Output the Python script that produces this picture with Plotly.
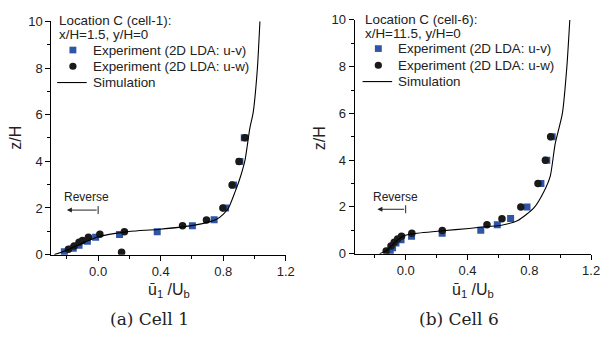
import plotly.graph_objects as go

# ---------------- data ----------------
# Cell 1 (x/H = 1.5)
c1_uv_x = [-0.216, -0.159, -0.122, -0.069, -0.016, 0.137, 0.378, 0.603, 0.742, 0.815, 0.866, 0.907, 0.935]
c1_uv_z = [0.12, 0.27, 0.40, 0.57, 0.75, 0.86, 0.98, 1.24, 1.50, 2.00, 2.99, 3.99, 5.01]
c1_uw_x = [0.150, -0.190, -0.153, -0.122, -0.100, -0.062, 0.011, 0.168, 0.540, 0.693, 0.798, 0.857, 0.901, 0.939]
c1_uw_z = [0.10, 0.23, 0.37, 0.53, 0.61, 0.75, 0.87, 0.98, 1.24, 1.49, 2.00, 2.99, 3.99, 5.01]
c1_sim_x = [-0.28, -0.185, -0.10, 0.0, 0.11, 0.21, 0.38, 0.55, 0.66, 0.76, 0.80, 0.834, 0.876, 0.912, 0.94, 0.97, 0.992, 1.019, 1.035]
c1_sim_z = [0.0, 0.23, 0.50, 0.77, 0.91, 1.0, 1.08, 1.20, 1.32, 1.53, 1.73, 2.0, 2.69, 3.37, 4.06, 5.40, 6.10, 8.0, 10.0]

# Cell 6 (x/H = 11.5)
c6_uv_x = [-0.100, -0.085, -0.063, -0.030, 0.038, 0.236, 0.486, 0.593, 0.679, 0.785, 0.875, 0.913, 0.948]
c6_uv_z = [0.10, 0.25, 0.46, 0.60, 0.75, 0.87, 1.00, 1.24, 1.50, 2.00, 3.00, 4.00, 5.00]
c6_uw_x = [-0.126, -0.095, -0.074, -0.052, -0.027, 0.040, 0.237, 0.526, 0.623, 0.745, 0.856, 0.904, 0.938]
c6_uw_z = [0.12, 0.33, 0.49, 0.63, 0.75, 0.87, 0.99, 1.24, 1.49, 2.00, 3.00, 4.00, 5.00]
c6_sim_x = [-0.168, -0.126, -0.063, -0.021, 0.042, 0.238, 0.41, 0.526, 0.62, 0.726, 0.831, 0.894, 0.936, 0.967, 1.014, 1.043, 1.062]
c6_sim_z = [0.0, 0.12, 0.53, 0.74, 0.85, 0.98, 1.08, 1.16, 1.22, 1.42, 1.97, 2.65, 3.33, 4.69, 6.0, 8.0, 10.0]

x_ticks = [0.0, 0.4, 0.8, 1.2]
y_ticks = [0, 2, 4, 6, 8, 10]

legend_titles = [["Location C (cell-1):", "x/H=1.5, y/H=0"],
                 ["Location C (cell-6):", "x/H=11.5, y/H=0"]]
captions = ["(a) Cell 1", "(b) Cell 6"]
names = ["Experiment (2D LDA: u-v)", "Experiment (2D LDA: u-w)", "Simulation"]

BLUE = "#2f55a6"
BLACK = "#1a1a1a"
TXT = "#222"
SANS = "Liberation Sans, Arial, sans-serif"

W, H = 609, 342

fig = go.Figure()

panels = [
    dict(uv=(c1_uv_x, c1_uv_z), uw=(c1_uw_x, c1_uw_z), sim=(c1_sim_x, c1_sim_z), xa="x", ya="y"),
    dict(uv=(c6_uv_x, c6_uv_z), uw=(c6_uw_x, c6_uw_z), sim=(c6_sim_x, c6_sim_z), xa="x2", ya="y2"),
]

for p in panels:
    fig.add_trace(go.Scatter(x=p["uv"][0], y=p["uv"][1], mode="markers", name=names[0],
                             marker=dict(symbol="square", size=7, color=BLUE),
                             xaxis=p["xa"], yaxis=p["ya"], showlegend=False))
    fig.add_trace(go.Scatter(x=p["uw"][0], y=p["uw"][1], mode="markers", name=names[1],
                             marker=dict(symbol="circle", size=7.5, color=BLACK),
                             xaxis=p["xa"], yaxis=p["ya"], showlegend=False))
    fig.add_trace(go.Scatter(x=p["sim"][0], y=p["sim"][1], mode="lines", name=names[2],
                             line=dict(color="black", width=1.1, shape="spline", smoothing=0.6),
                             xaxis=p["xa"], yaxis=p["ya"], showlegend=False))

dom_x = [[52 / W, 290 / W], [360 / W, 600 / W]]
dom_y = [[(H - 259) / H, (H - 15) / H], [(H - 258) / H, (H - 13.5) / H]]
x_ranges = [[-0.3, 1.2], [-0.33, 1.2]]

axis_common = dict(showline=True, linecolor="black", linewidth=1, ticks="outside",
                   ticklen=5, tickcolor="black", showgrid=False, zeroline=False,
                   tickfont=dict(family=SANS, size=13, color=TXT))

for i, (xa, ya) in enumerate([("xaxis", "yaxis"), ("xaxis2", "yaxis2")]):
    fig.update_layout(**{
        xa: dict(axis_common, domain=dom_x[i], range=x_ranges[i], tickvals=x_ticks,
                 ticktext=[f"{v:.1f}" for v in x_ticks],
                 minor=dict(dtick=0.2, tick0=0, ticks="outside", ticklen=3, tickcolor="black"),
                 anchor="y" if i == 0 else "y2"),
        ya: dict(axis_common, domain=dom_y[i], range=[0, 10], tickvals=y_ticks,
                 minor=dict(dtick=1, tick0=0, ticks="outside", ticklen=3, tickcolor="black"),
                 anchor="x" if i == 0 else "x2"),
    })

annotations = []
shapes = []


def px(x):
    return x / W


def py(y):
    return (H - y) / H


# ---- legends (drawn manually to match the compact spacing) ----
LEGF = 13.4
leg_left = [58, 368]
leg_title_y = [[14, 29], [13, 28]]
leg_item_y = [[45, 62, 79], [43.5, 61, 78]]
for i in range(2):
    x0 = leg_left[i]
    for j, t in enumerate(legend_titles[i]):
        annotations.append(dict(x=px(x0), y=py(leg_title_y[i][j]), xref="paper", yref="paper",
                                text=t, showarrow=False, xanchor="left", yanchor="middle",
                                font=dict(family=SANS, size=LEGF, color=TXT)))
    for j, nm in enumerate(names):
        annotations.append(dict(x=px(x0 + 34), y=py(leg_item_y[i][j]), xref="paper", yref="paper",
                                text=nm, showarrow=False, xanchor="left", yanchor="middle",
                                font=dict(family=SANS, size=LEGF, color=TXT)))
    cx = x0 + 16
    ys, yc, yl = leg_item_y[i]
    shapes.append(dict(type="rect", xref="paper", yref="paper",
                       x0=px(cx - 3.5), x1=px(cx + 3.5), y0=py(ys + 3.5), y1=py(ys - 3.5),
                       fillcolor=BLUE, line=dict(width=0)))
    shapes.append(dict(type="circle", xref="paper", yref="paper",
                       x0=px(cx - 3.7), x1=px(cx + 3.7), y0=py(yc + 3.7), y1=py(yc - 3.7),
                       fillcolor=BLACK, line=dict(width=0)))
    shapes.append(dict(type="line", xref="paper", yref="paper",
                       x0=px(x0), x1=px(x0 + 30), y0=py(yl), y1=py(yl),
                       line=dict(color="black", width=1.1)))

# ---- "Reverse" arrows ----
rev_text = [(-0.077, 2.45), (-0.068, 2.41)]
rev_arrow = [(-0.2, 1.91), (-0.183, 1.9)]
for i, (xr, yr) in enumerate([("x", "y"), ("x2", "y2")]):
    annotations.append(dict(x=rev_text[i][0], y=rev_text[i][1], xref=xr, yref=yr, text="Reverse",
                            showarrow=False, xanchor="center", yanchor="middle",
                            font=dict(family=SANS, size=12, color=TXT)))
    annotations.append(dict(x=rev_arrow[i][0], y=rev_arrow[i][1], xref=xr, yref=yr,
                            ax=0.0, ay=rev_arrow[i][1], axref=xr, ayref=yr, text="",
                            showarrow=True, arrowhead=2, arrowsize=1.0, arrowwidth=1,
                            arrowcolor=TXT))
    shapes.append(dict(type="line", xref=xr, yref=yr, x0=0, x1=0,
                       y0=rev_arrow[i][1] - 0.17, y1=rev_arrow[i][1] + 0.17,
                       line=dict(color=TXT, width=1)))

# ---- axis titles and captions ----
ytitle_x = [16, 325]
xtitle_x = [172, 480]
caption_x = [152, 466]
for i in range(2):
    annotations.append(dict(x=px(ytitle_x[i]), y=py(137), xref="paper", yref="paper",
                            text="z/H", textangle=-90, showarrow=False,
                            xanchor="center", yanchor="middle",
                            font=dict(family=SANS, size=16, color=TXT)))
    annotations.append(dict(x=px(xtitle_x[i]), y=py(297), xref="paper", yref="paper",
                            text="ū<sub>1</sub> /U<sub>b</sub>", showarrow=False,
                            xanchor="center", yanchor="middle",
                            font=dict(family=SANS, size=16, color=TXT)))
    annotations.append(dict(x=px(caption_x[i]), y=py(326), xref="paper", yref="paper",
                            text=captions[i], showarrow=False,
                            xanchor="center", yanchor="middle",
                            font=dict(family="DejaVu Serif, serif", size=17, color=TXT)))

fig.update_layout(annotations=annotations, shapes=shapes,
                  width=W, height=H, margin=dict(l=0, r=0, t=0, b=0),
                  paper_bgcolor="white", plot_bgcolor="white", showlegend=False)

fig.write_html("out.html")
